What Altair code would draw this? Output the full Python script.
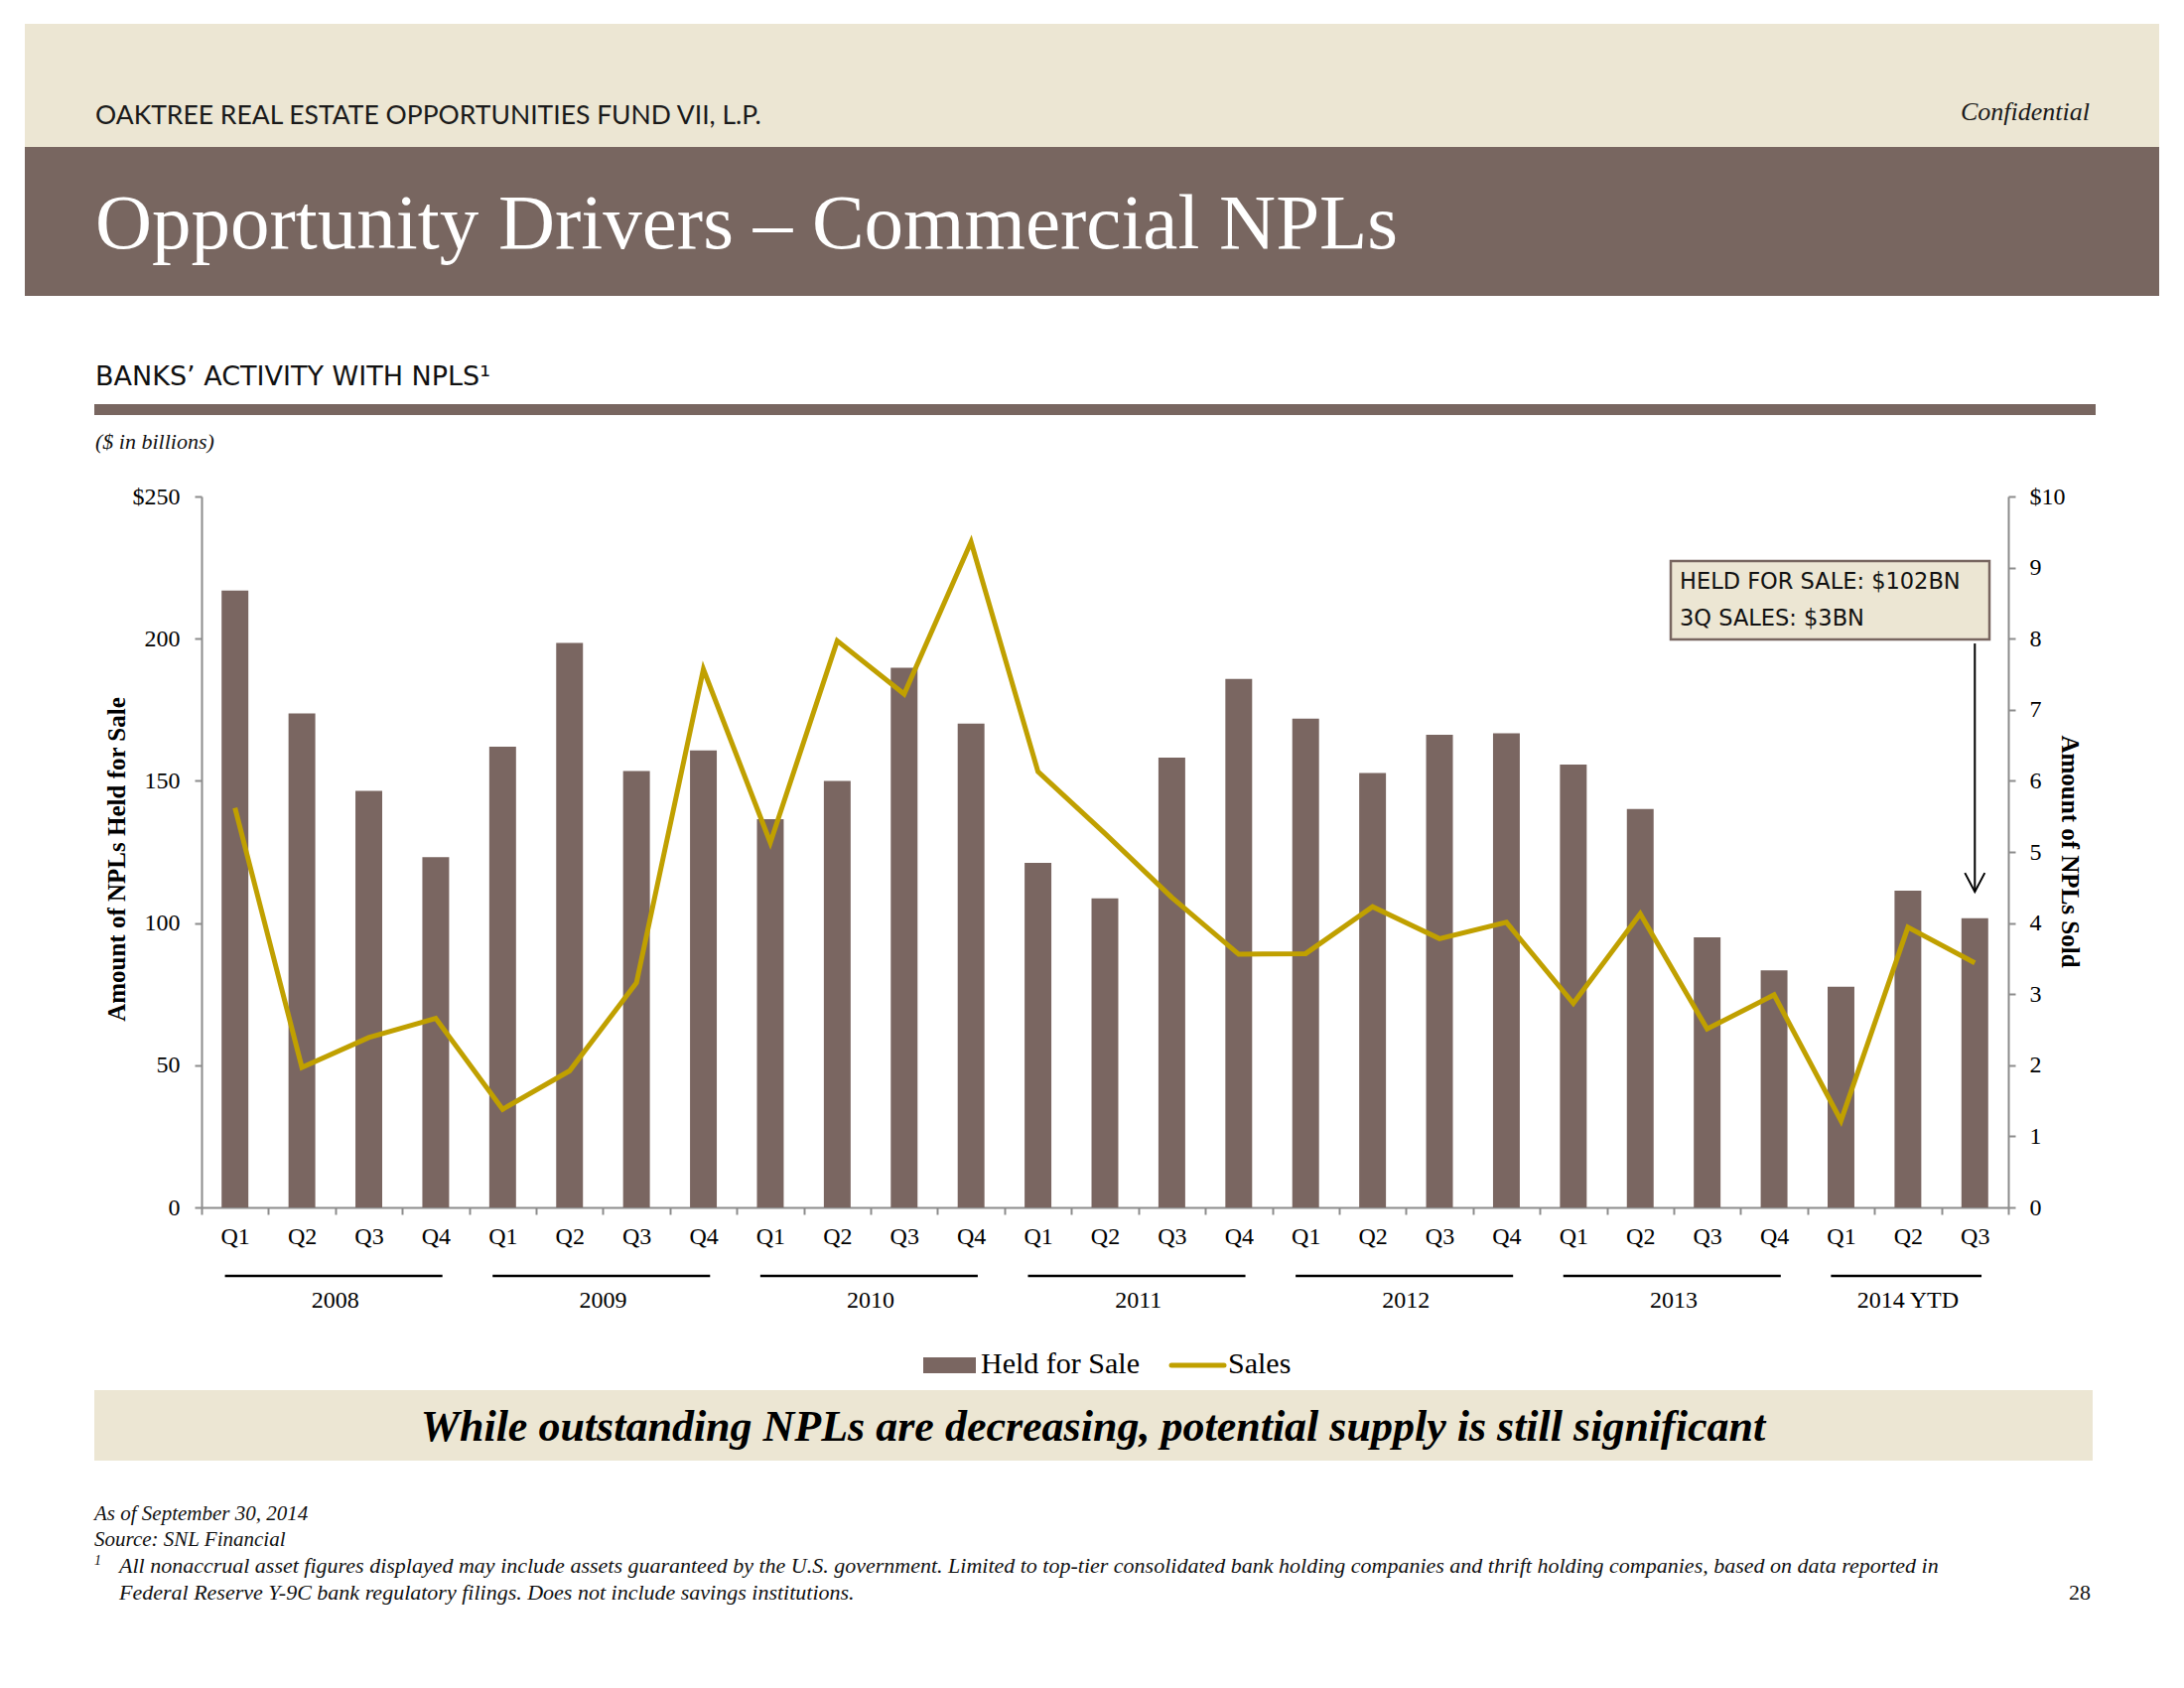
import altair as alt
import pandas as pd

# ---------------- data ----------------
years = ["2008"] * 4 + ["2009"] * 4 + ["2010"] * 4 + ["2011"] * 4 + ["2012"] * 4 + ["2013"] * 4 + ["2014 YTD"] * 3
quarters = ["Q1", "Q2", "Q3", "Q4"] * 6 + ["Q1", "Q2", "Q3"]
held_for_sale = [216.9, 173.7, 146.5, 123.2,
                 162.0, 198.5, 153.5, 160.7,
                 136.5, 150.0, 189.8, 170.1,
                 121.2, 108.7, 158.2, 185.8,
                 171.9, 152.8, 166.2, 166.7,
                 155.7, 140.1, 95.0, 83.4,
                 77.6, 111.4, 101.7]
sales = [5.62, 1.97, 2.39, 2.66,
         1.38, 1.92, 3.16, 7.57,
         5.13, 7.97, 7.22, 9.36,
         6.13, 5.26, 4.36, 3.56,
         3.57, 4.23, 3.78, 4.01,
         2.87, 4.13, 2.51, 2.99,
         1.22, 3.94, 3.44]
year_labels = ["2008", "2009", "2010", "2011", "2012", "2013", "2014 YTD"]
left_ticks = [0, 50, 100, 150, 200, 250]
right_ticks = [0, 1, 2, 3, 4, 5, 6, 7, 8, 9, 10]

cats = [f"{y} {q}" for y, q in zip(years, quarters)]
df = pd.DataFrame({"cat": cats, "held": held_for_sale, "sales": sales})

groups = []
for yl in year_labels:
    members = [c for c, y in zip(cats, years) if y == yl]
    groups.append({"year": yl, "first": members[0], "last": members[-1],
                   "mid": members[2] if len(members) == 4 else members[1],
                   "full": len(members) == 4})
gdf = pd.DataFrame(groups)
arrow_df = pd.DataFrame({"cat": [cats[-1]], "top": [198.3], "tip": [111.0]})
one = pd.DataFrame({"k": [0]})

# ---------------- style ----------------
W, H = 1820, 716
BROWN = "#7A6661"
GOLD = "#C0A000"
BEIGE = "#ECE6D3"
AXIS = "#8C8C8C"
SERIF = "Liberation Serif"

x_axis = alt.Axis(title=None, labelExpr="slice(datum.label, -2)", tickBand="extent",
                  domainColor=AXIS, domainWidth=2, tickColor=AXIS, tickWidth=2, tickSize=7,
                  labelFont=SERIF, labelFontSize=24, labelColor="black", labelAngle=0,
                  labelBaseline="middle", labelPadding=22, grid=False)
x_scale = alt.Scale(paddingInner=0, paddingOuter=0)


def xcat(field, bp=None):
    if bp is None:
        return alt.X(f"{field}:N", sort=cats, scale=x_scale, axis=x_axis)
    return alt.X(f"{field}:N", sort=cats, scale=x_scale, axis=x_axis, bandPosition=bp)


def txt(s, x, y, size, font=SERIF, align="left", **kw):
    return alt.Chart(one).mark_text(text=s, align=align, baseline="alphabetic", font=font,
                                    fontSize=size, **kw).encode(x=alt.value(x), y=alt.value(y))


def box(x, x2, y, y2, **kw):
    return alt.Chart(one).mark_rect(**kw).encode(x=alt.value(x), x2=alt.value(x2),
                                                 y=alt.value(y), y2=alt.value(y2))


# ---------------- decorations ----------------
top_band = box(-178, 1972, -476, -352, fill=BEIGE)
title_band = box(-178, 1972, -352, -202, fill="#786660")
header = txt("OAKTREE REAL ESTATE OPPORTUNITIES FUND VII, L.P.", -107, -375, 26.5, font="Lato", color="#1a1a1a")
confid = txt("Confidential", 1902, -379, 26, align="right", fontStyle="italic", color="#1a1a1a")
title = txt("Opportunity Drivers \u2013 Commercial NPLs", -107, -250, 79, color="white")
section = txt("BANKS\u2019 ACTIVITY WITH NPLS\u00b9", -107, -112, 27, font="DejaVu Sans", color="#111")
section_rule = box(-108, 1908, -93, -82, fill="#786660")
units = txt("($ in billions)", -107, -48, 22, fontStyle="italic", color="#111")

# ---------------- data layers ----------------
bars = alt.Chart(df).mark_bar(color=BROWN, width=alt.RelativeBandSize(0.4)).encode(
    x=xcat("cat"),
    y=alt.Y("held:Q", scale=alt.Scale(domain=[0, 250], nice=False),
            axis=alt.Axis(values=left_ticks, labelExpr="datum.value == 250 ? '$250' : datum.label",
                          title="Amount of NPLs Held for Sale", titleFont=SERIF, titleFontSize=25,
                          titleFontWeight="bold", titleColor="black", titleAngle=270,
                          titleX=-78, titleY=365, titleAlign="center", titleBaseline="alphabetic",
                          domainColor=AXIS, domainWidth=2, tickColor=AXIS, tickWidth=2, tickSize=7,
                          labelFont=SERIF, labelFontSize=24, labelColor="black", labelPadding=15,
                          grid=False)),
)

line = alt.Chart(df).mark_line(color=GOLD, strokeWidth=5).encode(
    x=xcat("cat"),
    y=alt.Y("sales:Q", scale=alt.Scale(domain=[0, 10], nice=False),
            axis=alt.Axis(orient="right", values=right_ticks,
                          labelExpr="datum.value == 10 ? '$10' : datum.label",
                          title="Amount of NPLs Sold", titleFont=SERIF, titleFontSize=25,
                          titleFontWeight="bold", titleColor="black", titleAngle=90,
                          titleX=53, titleY=357, titleAlign="center", titleBaseline="alphabetic",
                          domainColor=AXIS, domainWidth=2, tickColor=AXIS, tickWidth=2, tickSize=7,
                          labelFont=SERIF, labelFontSize=24, labelColor="black", labelPadding=14,
                          grid=False)),
)

# year group rules and labels
year_rules = alt.Chart(gdf).mark_rule(color="black", strokeWidth=2.5).encode(
    x=xcat("first", 0.35), x2=alt.X2("last", bandPosition=0.6), y=alt.value(785))
year_text_full = alt.Chart(gdf).transform_filter("datum.full").mark_text(
    font=SERIF, fontSize=24, baseline="middle", color="black").encode(
    x=xcat("mid", 0), y=alt.value(810), text="year:N")
year_text_part = alt.Chart(gdf).transform_filter("!datum.full").mark_text(
    font=SERIF, fontSize=24, baseline="middle", color="black").encode(
    x=xcat("mid", 0.5), y=alt.value(810), text="year:N")

# annotation
ann_box = box(1480, 1801, 65, 144, fill=BEIGE, stroke="#786660", strokeWidth=2.5)
ann1 = txt("HELD FOR SALE: $102BN", 1489, 93, 22.5, font="DejaVu Sans", color="#111")
ann2 = txt("3Q SALES: $3BN", 1489, 130, 22.5, font="DejaVu Sans", color="#111")
arrow = alt.Chart(arrow_df).mark_rule(color="black", strokeWidth=2).encode(
    x=xcat("cat"),
    y=alt.Y("top:Q", scale=alt.Scale(domain=[0, 250], nice=False), axis=None),
    y2="tip:Q")
arrow_head = alt.Chart(arrow_df).mark_point(shape="M -1 -1.9 L 0 0 L 1 -1.9", size=400, filled=False,
                                             stroke="black", strokeWidth=2, opacity=1).encode(
    x=xcat("cat"),
    y=alt.Y("tip:Q", scale=alt.Scale(domain=[0, 250], nice=False), axis=None))

# legend
leg_rect = box(727, 780, 867, 883, fill=BROWN)
leg_t1 = txt("Held for Sale", 785, 883, 30, color="black")
leg_line = alt.Chart(one).mark_rule(color=GOLD, strokeWidth=5, strokeCap="round").encode(
    x=alt.value(977), x2=alt.value(1030), y=alt.value(875))
leg_t2 = txt("Sales", 1034, 883, 30, color="black")

# takeaway box and footnotes
take_box = box(-108, 1905, 900, 971, fill=BEIGE)
take_txt = txt("While outstanding NPLs are decreasing, potential supply is still significant", 898, 951, 44,
               align="center", fontStyle="italic", fontWeight="bold", color="black")
fn1 = txt("As of September 30, 2014", -108, 1031, 21, fontStyle="italic", color="#111")
fn2 = txt("Source: SNL Financial", -108, 1057, 21, fontStyle="italic", color="#111")
fn_sup = txt("1", -108, 1076, 14, fontStyle="italic", color="#111")
fn3 = txt("All nonaccrual asset figures displayed may include assets guaranteed by the U.S. government. "
          "Limited to top-tier consolidated bank holding companies and thrift holding companies, based on data reported in",
          -83, 1084, 22, fontStyle="italic", color="#111")
fn4 = txt("Federal Reserve Y-9C bank regulatory filings. Does not include savings institutions.",
          -83, 1111, 22, fontStyle="italic", color="#111")
page = txt("28", 1903, 1111, 22, align="right", color="#111")

chart = alt.layer(
    top_band, title_band, header, confid, title, section, section_rule, units,
    bars, line, year_rules, year_text_full, year_text_part,
    ann_box, ann1, ann2, arrow, arrow_head,
    leg_rect, leg_t1, leg_line, leg_t2,
    take_box, take_txt, fn1, fn2, fn_sup, fn3, fn4, page,
).resolve_scale(y="independent").properties(
    width=W, height=H,
    autosize=alt.AutoSizeParams(type="none"),
    padding={"left": 195, "top": 492, "right": 169, "bottom": 476},
    background="white",
).configure_view(strokeWidth=0)

chart.save("out.html", embed_options={"renderer": "svg", "actions": False})
